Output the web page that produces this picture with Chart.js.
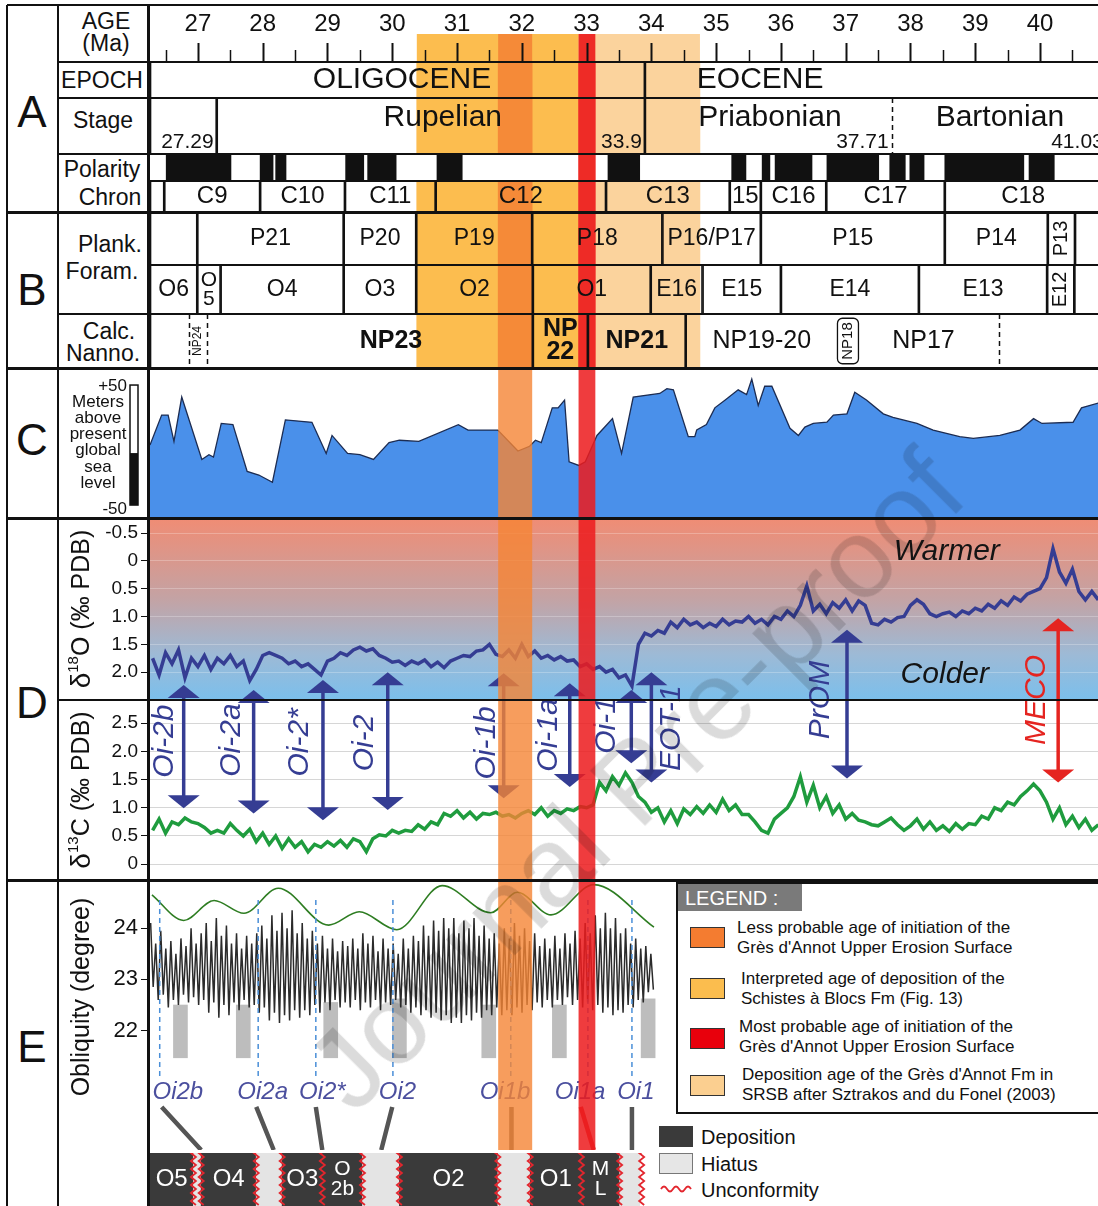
<!DOCTYPE html>
<html lang="en">
<head>
<meta charset="UTF-8">
<title>Oligocene - Eocene stratigraphic chart</title>
<script src="https://cdn.jsdelivr.net/npm/chart.js"></script>
<style>
  body { margin: 0; background: #fff; }
  #fig { position: relative; width: 1098px; height: 1206px; overflow: hidden;
         font-family: "Liberation Sans", Arial, sans-serif; color: #111; }
  #fig canvas { position: absolute; }
  .ln { position: absolute; background: #111; }
  .t { position: absolute; white-space: nowrap; line-height: 1; transform: translate(-50%, -50%); }
  .tr { transform: translate(-100%, -50%); }
  #legend { position: absolute; left: 676px; top: 882px; width: 440px; height: 228px;
            border: 2px solid #111; background: #fff; }
  #legend .hd { position: absolute; left: 0; top: 0; width: 124px; height: 27px; background: #7a7a7a;
                color: #fff; font-size: 20px; line-height: 28px; padding-left: 7px; box-sizing: border-box; }
  #legend .sw { position: absolute; left: 12px; width: 35px; height: 21px; border: 1px solid #333; box-sizing: border-box; }
  #legend .lt { position: absolute; font-size: 17px; line-height: 20px; white-space: nowrap; }
  .bl { position: absolute; font-size: 20px; line-height: 1; transform: translateY(-50%); }
  #wm { position: absolute; left: 635px; top: 780px; transform: translate(-50%, -50%) rotate(-45deg);
        font-size: 113px; color: rgba(0, 0, 0, 0.14); white-space: nowrap; pointer-events: none; }
</style>
</head>
<body>
<div id="fig">
  <div id="legend">
    <div class="hd">LEGEND :</div>
    <div class="sw" style="top:43px;background:#f47c30"></div>
    <div class="lt" style="left:59px;top:34px">Less probable age of initiation of the<br>Grès d'Annot Upper Erosion Surface</div>
    <div class="sw" style="top:94px;background:#fbbd4e"></div>
    <div class="lt" style="left:63px;top:85px">Interpreted age of deposition of the<br>Schistes à Blocs Fm (Fig. 13)</div>
    <div class="sw" style="top:144px;background:#e8000c"></div>
    <div class="lt" style="left:61px;top:133px">Most probable age of initiation of the<br>Grès d'Annot Upper Erosion Surface</div>
    <div class="sw" style="top:191px;background:#fbcf90"></div>
    <div class="lt" style="left:64px;top:181px">Deposition age of the Grès d'Annot Fm in<br>SRSB after Sztrakos and du Fonel (2003)</div>
  </div>
  <div style="position:absolute;left:659px;top:1126px;width:34px;height:21px;background:#3a3a3a"></div>
  <div class="bl" style="left:701px;top:1137px">Deposition</div>
  <div style="position:absolute;left:659px;top:1153px;width:34px;height:21px;background:#e6e6e6;border:1px solid #777;box-sizing:border-box"></div>
  <div class="bl" style="left:701px;top:1164px">Hiatus</div>
  <svg style="position:absolute;left:660px;top:1183px" width="34" height="12">
    <path d="M1 6 Q4 1 7 6 T13 6 T19 6 T25 6 T31 6" fill="none" stroke="#e3262e" stroke-width="1.8"/>
  </svg>
  <div class="bl" style="left:701px;top:1190px">Unconformity</div>
</div>
<script>
const FF = '"Liberation Sans", Arial, sans-serif';
Chart.defaults.font.family = FF;
Chart.defaults.color = '#111';
Chart.defaults.animation = false;
Chart.defaults.responsive = false;
Chart.defaults.events = [];
Chart.defaults.plugins.legend.display = false;
Chart.defaults.plugins.tooltip.enabled = false;

// ---------- age axis (Ma) ----------
const XMIN = 26.26, XMAX = 40.895;

// ---------- A : timescale ----------
const epochs = [[26.26, 33.9, 'OLIGOCENE', {x: 30.15}], [33.9, 41.5, 'EOCENE', {x: 35.68}]];
const stages = [[26.26, 27.29, ''], [27.29, 33.9, 'Rupelian', {x: 30.78}],
  [33.9, 37.71, 'Priabonian', {x: 35.83, R: 0}], [37.71, 41.5, 'Bartonian', {x: 39.38, L: 0}]];
const stageBounds = [27.29, 33.9, 37.71, 41.03];
const stageBoundLabels = ['27.29', '33.9', '37.71', '41.03'];
const polarityNormal = [[26.51, 27.51], [27.96, 28.16], [28.20, 28.36], [29.28, 29.56], [29.62, 30.06],
  [30.69, 31.08], [33.33, 33.82], [35.24, 35.46], [35.71, 35.83], [35.91, 36.48], [36.71, 37.51],
  [37.68, 37.92], [37.99, 38.21], [38.53, 39.75], [39.83, 40.22]];
const chrons = [[26.26, 26.48, ''], [26.48, 27.96, 'C9'], [27.96, 29.27, 'C10'], [29.27, 30.67, 'C11'],
  [30.67, 33.30, 'C12'], [33.30, 35.21, 'C13'], [35.21, 35.69, '15'], [35.69, 36.70, 'C16'],
  [36.70, 38.53, 'C17'], [38.53, 41.5, 'C18', {x: 39.74}]];

// ---------- B : biozones ----------
const plankP = [[26.26, 26.99, ''], [26.99, 29.25, 'P21'], [29.25, 30.37, 'P20'], [30.37, 32.16, 'P19'],
  [32.16, 34.17, 'P18'], [34.17, 35.69, 'P16/P17'], [35.69, 38.53, 'P15'], [38.53, 40.12, 'P14'],
  [40.12, 40.54, 'P13', {v: 1, s: 20}], [40.54, 41.5, '']];
const plankOE = [[26.26, 26.99, 'O6'], [26.99, 27.35, 'O\n5', {s: 21}], [27.35, 29.25, 'O4'], [29.25, 30.37, 'O3'],
  [30.37, 32.17, 'O2'], [32.17, 33.99, 'O1'], [33.99, 34.79, 'E16'], [34.79, 36.0, 'E15'],
  [36.0, 38.13, 'E14'], [38.13, 40.11, 'E13'], [40.11, 40.53, 'E12', {v: 1, s: 20}], [40.53, 41.5, '']];
const nanno = [[26.26, 26.87, '', {R: 0}], [26.87, 27.13, 'NP24', {v: 1, s: 12, L: 0, R: 0}],
  [27.13, 32.17, 'NP23', {x: 29.98, b: 1, L: 0}], [32.17, 33.02, 'NP\n22', {b: 1}], [33.02, 34.53, 'NP21', {b: 1}],
  [34.53, 36.88, 'NP19-20', {R: 0}], [36.88, 37.19, 'NP18', {v: 1, s: 15, L: 0, R: 0, box: 1}],
  [37.19, 39.37, 'NP17', {x: 38.2, L: 0, R: 0}], [39.37, 41.5, '', {L: 0}]];
const nannoDash = [26.86, 27.14, 39.37];

// ---------- highlighted age bands ----------
const bandsTop = [[30.38, 34.75, '#fbd39d'], [30.38, 32.876, '#fcbd4f'], [31.635, 32.16, '#f58a38'], [32.876, 33.135, '#ee2b26']];
const bandsLow = [[31.635, 32.16, 'rgba(245,133,52,0.8)'], [32.876, 33.135, 'rgba(236,28,30,0.86)']];

// ---------- C : sea level (m) ----------
const seaAge = [26.26, 26.44, 26.54, 26.63, 26.75, 27.06, 27.17, 27.24, 27.36, 27.54,
  27.76, 27.94, 28.15, 28.35, 28.76, 28.98, 29.07, 29.31, 29.50, 29.71,
  29.95, 30.11, 30.41, 31.02, 31.17, 31.63, 31.94, 32.12, 32.21, 32.30,
  32.47, 32.56, 32.66, 32.73, 32.88, 32.98, 33.16, 33.40, 33.54, 33.72,
  34.13, 34.24, 34.34, 34.57, 34.67, 34.70, 34.85, 34.98, 35.14, 35.34,
  35.47, 35.55, 35.65, 35.75, 35.86, 36.14, 36.27, 36.37, 36.50, 36.71,
  36.81, 37.02, 37.14, 37.32, 37.58, 37.73, 38.10, 38.35, 38.76, 38.97,
  39.38, 39.69, 39.90, 40.03, 40.51, 40.64, 40.90];
const seaLevel = [0, 25, 25, 3, 40, -12, -8, -10, 18, 17,
  -22, -25, -31, 21, 19, -7, 8, -7, -8, -12,
  2, 4, 3, 17, 12.5, 12.5, -5, -1, 4, 2,
  31, 31, 37.5, -14, -17, -14, 8, 22, -7, 40,
  43, 47, 46, 7, 7, 12.5, 17, 31, 37.5, 46,
  42, 55, 33, 49, 49, 14, 8, 15, 18, 19,
  25, 26, 44, 37.5, 26, 23, 18, 12.5, 7, 5.5,
  8, 12.5, 22, 18, 19, 31, 35];

// ---------- D : isotopes (per mil PDB), sampled every 0.1 Ma from 26.3 Ma ----------
const ISO_AGE0 = 26.3, ISO_STEP = 0.1;
const d18O = [
  1.75, 2.05, 1.65, 1.85, 1.6, 2.1, 1.75, 1.9, 1.7, 1.95,
  1.75, 1.85, 1.7, 1.9, 1.8, 2.15, 1.95, 1.7, 1.65, 1.7,
  1.75, 1.85, 1.8, 1.9, 1.85, 1.95, 2.05, 1.8, 1.75, 1.65,
  1.7, 1.6, 1.55, 1.62, 1.58, 1.7, 1.75, 1.82, 1.8, 1.88,
  1.8, 1.85, 1.78, 1.9, 1.82, 1.92, 1.8, 1.75, 1.7, 1.72,
  1.62, 1.6, 1.5, 1.68, 1.72, 1.6, 1.75, 1.5, 1.72, 1.62,
  1.75, 1.7, 1.78, 1.72, 1.8, 1.78, 1.9, 1.85, 1.95, 1.9,
  2.0, 1.95, 2.1, 2.05, 2.25, 1.5, 1.3, 1.35, 1.25, 1.3,
  1.1, 1.2, 1.05, 1.15, 1.1, 1.2, 1.12, 1.18, 1.05, 1.15,
  1.08, 1.1, 1.0, 1.12, 1.05, 1.15, 1.0, 1.05, 0.9, 1.0,
  0.8, 0.45, 0.9, 0.78, 0.95, 0.75, 0.85, 0.7, 0.9, 0.72,
  0.8, 1.12, 1.15, 1.05, 1.1, 1.02, 1.0, 0.8, 0.7, 0.78,
  0.95, 1.0, 0.95, 0.92, 1.0, 0.9, 0.95, 0.85, 0.9, 0.78,
  0.85, 0.72, 0.8, 0.65, 0.72, 0.6, 0.55, 0.5, 0.3, -0.22,
  0.2, 0.4, 0.15, 0.55, 0.7, 0.55, 0.7];
const d13C = [
  0.6, 0.8, 0.55, 0.75, 0.7, 0.82, 0.75, 0.72, 0.65, 0.55,
  0.6, 0.55, 0.72, 0.6, 0.5, 0.62, 0.4, 0.55, 0.35, 0.5,
  0.28, 0.45, 0.3, 0.4, 0.22, 0.35, 0.3, 0.4, 0.32, 0.42,
  0.3, 0.45, 0.4, 0.22, 0.45, 0.52, 0.5, 0.6, 0.55, 0.6,
  0.58, 0.7, 0.62, 0.75, 0.7, 0.9, 0.85, 0.95, 0.82, 0.92,
  0.8, 0.9, 0.88, 0.92, 0.85, 0.88, 0.82, 0.9, 0.95, 0.88,
  1.0, 0.85, 0.95, 0.9, 0.98, 0.95, 1.02, 1.0, 1.05, 1.45,
  1.3, 1.55, 1.4, 1.62, 1.45, 1.2, 1.1, 0.92, 1.0, 0.75,
  0.95, 0.72, 0.98, 0.88, 1.02, 0.9, 1.05, 0.92, 1.15, 0.95,
  1.05, 0.88, 0.88, 0.75, 0.6, 0.55, 0.8, 0.9, 1.0, 1.2,
  1.55, 1.1, 1.4, 1.0, 1.2, 0.9, 1.05, 0.8, 0.9, 0.78,
  0.75, 0.7, 0.68, 0.75, 0.82, 0.7, 0.6, 0.68, 0.8, 0.62,
  0.75, 0.6, 0.68, 0.58, 0.72, 0.62, 0.72, 0.7, 0.85, 0.8,
  1.0, 0.95, 1.1, 1.05, 1.2, 1.3, 1.42, 1.3, 1.1, 0.8,
  1.0, 0.7, 0.85, 0.65, 0.8, 0.6, 0.7];

// isotope events: arrow tip on d18O scale, arrow tip on d13C scale, label
const eventAge = [26.78, 27.86, 28.93, 29.93, 31.72, 32.74, 33.69, 34.0, 37.02, 40.28];
const eventTopO = [2.23, 2.32, 2.14, 2.0, 2.02, 2.2, 2.32, 2.0, 1.24, 1.03];
const eventBotC = [0.99, 0.9, 0.78, 0.96, 1.17, 1.37, 1.79, 1.45, 1.52, 1.45];
const eventName = ['Oi-2b', 'Oi-2a', 'Oi-2*', 'Oi-2', 'Oi-1b', 'Oi-1a', 'Oi-1', 'EOT-1', 'PrOM', 'MECO'];
const eventNameAge = [26.49, 27.52, 28.57, 29.58, 31.45, 32.42, 33.31, 34.32, 36.62, 39.95];
const eventNameC = [2.18, 2.2, 2.16, 2.15, 2.15, 2.29, 2.46, 2.41, 2.91, 2.91];

// ---------- E : obliquity (degree) ----------
const OBL_AGE0 = 26.27, OBL_STEP = 0.039;
const oblHigh = [
  24.10, 23.70, 23.95, 23.60, 23.75, 23.50, 23.80, 23.65, 24.00, 23.70,
  23.90, 24.10, 23.75, 24.20, 23.85, 24.05, 23.70, 23.90, 23.60, 23.85,
  23.70, 23.90, 24.05, 23.80, 24.25, 23.95, 24.30, 24.00, 24.35, 23.90,
  24.10, 23.80, 23.95, 23.70, 23.85, 23.60, 23.80, 23.55, 23.75, 23.65,
  23.80, 23.60, 23.90, 23.70, 23.85, 23.55, 23.80, 23.60, 23.70, 23.50,
  23.80, 23.60, 23.85, 23.75, 24.05, 23.85, 24.15, 23.95, 24.20, 24.00,
  24.20, 23.90, 24.15, 24.00, 24.20, 23.85, 24.05, 23.80, 23.90, 23.70,
  24.00, 23.80, 24.10, 23.85, 24.00, 23.75, 23.90, 23.65, 23.80, 23.60,
  23.85, 23.60, 23.90, 23.70, 23.95, 23.80, 24.10, 23.90, 24.25, 24.00,
  24.30, 24.00, 24.20, 23.90, 24.00, 23.70, 23.80, 23.60, 23.65, 23.50];
const oblLow = [
  22.85, 22.60, 22.70, 22.45, 22.60, 22.50, 22.70, 22.55, 22.65, 22.50,
  22.60, 22.35, 22.55, 22.25, 22.50, 22.30, 22.55, 22.40, 22.60, 22.45,
  22.50, 22.35, 22.45, 22.20, 22.35, 22.15, 22.30, 22.20, 22.40, 22.25,
  22.40, 22.30, 22.50, 22.35, 22.55, 22.40, 22.60, 22.45, 22.55, 22.45,
  22.60, 22.40, 22.55, 22.45, 22.60, 22.40, 22.55, 22.50, 22.60, 22.45,
  22.50, 22.35, 22.45, 22.30, 22.40, 22.25, 22.35, 22.20, 22.30, 22.15,
  22.25, 22.15, 22.30, 22.20, 22.35, 22.25, 22.40, 22.30, 22.45, 22.30,
  22.40, 22.30, 22.45, 22.35, 22.50, 22.40, 22.55, 22.45, 22.60, 22.45,
  22.60, 22.50, 22.65, 22.50, 22.60, 22.45, 22.55, 22.40, 22.50, 22.35,
  22.45, 22.30, 22.40, 22.35, 22.50, 22.45, 22.60, 22.55, 22.75, 22.80];
const modAge = [26.29, 26.78, 27.25, 27.71, 28.24, 29.02, 29.49, 30.07, 30.77, 31.52, 31.93, 32.45, 33.11, 34.04];
const modVal = [24.65, 24.15, 24.54, 24.29, 24.78, 24.06, 24.32, 23.97, 24.83, 24.30, 24.70, 24.26, 24.85, 24.02];
const oblTicks = [22, 23, 24];
const cycleAge = [26.73, 27.70, 29.05, 30.11, 31.49, 32.58, 33.95];
const cycleTop = [22.5, 22.5, 22.55, 22.62, 22.5, 22.5, 22.62];
const cycleBase = 21.47;
const oiName = ['Oi2b', 'Oi2a', 'Oi2*', 'Oi2', 'Oi1b', 'Oi1a', 'Oi1'];
const oiAge = [26.41, 27.93, 28.82, 30.01, 31.83, 33.02, 33.70];
const oiNameAge = [26.69, 28.0, 28.92, 30.08, 31.74, 32.9, 33.76];
const linkTop = [26.44, 27.90, 28.82, 30.0, 31.84, 32.91, 33.70];
const linkBase = [27.05, 28.17, 28.92, 29.83, 31.84, 33.11, 33.70];

// ---------- depositional sequences ----------
const seqUnits = [[26.26, 26.93, 'O5', 'd'], [26.93, 27.05, '', 'h'], [27.05, 27.90, 'O4', 'd'], [27.90, 28.30, '', 'h'],
  [28.30, 28.92, 'O3', 'd'], [28.92, 29.54, 'O\n2b', 'd'], [29.54, 30.11, '', 'h'], [30.11, 31.63, 'O2', 'd'],
  [31.63, 32.13, '', 'h'], [32.13, 32.92, 'O1', 'd'], [32.92, 33.51, 'M\nL', 'd'], [33.51, 33.82, '', 'h']];
const seqUnconf = [26.93, 27.05, 27.90, 28.30, 28.92, 29.54, 30.11, 31.63, 32.13, 32.92, 33.51, 33.85];

// ---------- helpers ----------
const fig = document.getElementById('fig');
function addCanvas(left, top, w, h) {
  const c = document.createElement('canvas');
  c.width = w; c.height = h;
  c.style.left = left + 'px'; c.style.top = top + 'px';
  c.style.width = w + 'px'; c.style.height = h + 'px';
  fig.appendChild(c);
  return c;
}
function fillBands(c, bands, y0, y1) {
  const ctx = c.ctx, xs = c.scales.x;
  ctx.save();
  bands.forEach(b => {
    const xa = xs.getPixelForValue(b[0]), xb = xs.getPixelForValue(b[1]);
    ctx.fillStyle = b[2];
    ctx.fillRect(xa, y0, xb - xa, y1 - y0);
  });
  ctx.restore();
}
function rrect(ctx, x, y, w, h, r) {
  ctx.beginPath();
  ctx.moveTo(x + r, y);
  ctx.arcTo(x + w, y, x + w, y + h, r);
  ctx.arcTo(x + w, y + h, x, y + h, r);
  ctx.arcTo(x, y + h, x, y, r);
  ctx.arcTo(x, y, x + w, y, r);
  ctx.closePath();
}
function vText(ctx, parts, cx, cy, color) {
  ctx.save();
  ctx.translate(cx, cy);
  ctx.rotate(-Math.PI / 2);
  let w = 0;
  parts.forEach(p => { ctx.font = p[1] + 'px ' + FF; w += ctx.measureText(p[0]).width; });
  let x = -w / 2;
  ctx.fillStyle = color || '#111';
  ctx.textBaseline = 'middle';
  ctx.textAlign = 'left';
  parts.forEach(p => {
    ctx.font = p[1] + 'px ' + FF;
    ctx.fillText(p[0], x, -(p[2] || 0));
    x += ctx.measureText(p[0]).width;
  });
  ctx.restore();
}
// a left axis of fixed width that adds no label padding above or below the plot
function fixAxis(s) { s.width = 90; s.paddingTop = 0; s.paddingBottom = 0; }
const hiddenX = () => ({type: 'linear', min: XMIN, max: XMAX, offset: false, display: false});
const barBase = {barPercentage: 1, categoryPercentage: 1, grouped: false, borderSkipped: false, borderWidth: 0};

// ---------- age axis ----------
new Chart(addCanvas(150, 5, 948, 57), {
  type: 'line',
  data: {datasets: []},
  options: {
    layout: {padding: 0},
    scales: {
      x: {type: 'linear', position: 'top', min: XMIN, max: XMAX,
        afterFit: s => { s.height = 34; },
        ticks: {stepSize: 1, includeBounds: false, padding: 0, font: {size: 24}, color: '#111', maxRotation: 0, autoSkip: false},
        grid: {drawOnChartArea: false, drawTicks: false}, border: {display: false}},
      y: {display: false}
    }
  },
  plugins: [{
    id: 'ageDeco',
    beforeDraw: c => fillBands(c, bandsTop, 29, 57),
    afterDraw: c => {
      const ctx = c.ctx, xs = c.scales.x, b = c.chartArea.bottom;
      ctx.save();
      ctx.strokeStyle = '#111';
      for (let v = 26.5; v < XMAX; v += 0.5) {
        const major = v % 1 === 0;
        const x = Math.round(xs.getPixelForValue(v)) + 0.5;
        ctx.lineWidth = major ? 2 : 1.5;
        ctx.beginPath(); ctx.moveTo(x, b); ctx.lineTo(x, b - (major ? 19 : 12)); ctx.stroke();
      }
      ctx.restore();
    }
  }]
});

// ---------- timescale / biozone rows ----------
function drawUnitLabels(c, units, o) {
  const ctx = c.ctx, xs = c.scales.x, a = c.chartArea;
  const cy = (a.top + a.bottom) / 2 + (o.dy || 0);
  ctx.save();
  ctx.strokeStyle = '#111'; ctx.lineWidth = 1.5; ctx.setLineDash([5, 4]);
  (o.dash || []).forEach(v => {
    const x = Math.round(xs.getPixelForValue(v)) + 0.5;
    ctx.beginPath(); ctx.moveTo(x, a.top); ctx.lineTo(x, a.bottom); ctx.stroke();
  });
  ctx.setLineDash([]);
  ctx.fillStyle = '#111'; ctx.textAlign = 'center'; ctx.textBaseline = 'middle';
  units.forEach(u => {
    if (!u[2]) return;
    const p = u[3] || {};
    const size = p.s || o.size || 22;
    ctx.font = (p.b ? 'bold ' : '') + size + 'px ' + FF;
    const x = xs.getPixelForValue(p.x !== undefined ? p.x : (u[0] + u[1]) / 2);
    const lines = u[2].split('\n');
    const lh = size * 0.92;
    ctx.save();
    ctx.translate(x, p.v ? (a.top + a.bottom) / 2 : cy);
    if (p.v) ctx.rotate(-Math.PI / 2);
    lines.forEach((l, i) => ctx.fillText(l, 0, (i - (lines.length - 1) / 2) * lh));
    if (p.box) {
      const w = ctx.measureText(lines[0]).width;
      ctx.lineWidth = 1.3;
      rrect(ctx, -w / 2 - 4, -size / 2 - 3, w + 8, size + 6, 5);
      ctx.stroke();
    }
    ctx.restore();
  });
  if (o.bounds) {
    ctx.textAlign = 'right';
    ctx.font = '21px ' + FF;
    o.bounds.forEach((v, i) => ctx.fillText(o.boundLabels[i], xs.getPixelForValue(v) - 3, 44));
  }
  ctx.restore();
}

function rowChart(top, h, units, o) {
  const ds = [];
  if (o.white) ds.push(Object.assign({data: [{x: [XMIN, XMAX], y: 'r'}], backgroundColor: '#fff', order: 30}, barBase));
  (o.bands || []).forEach((b, i) => ds.push(Object.assign({data: [{x: [b[0], b[1]], y: 'r'}], backgroundColor: b[2], order: 20 - i}, barBase)));
  if (o.fill) ds.push(Object.assign({data: o.fill.map(n => ({x: n, y: 'r'})), backgroundColor: '#111', order: 25}, barBase));
  ds.push(Object.assign({}, barBase, {
    data: units.map(u => ({x: [u[0], u[1]], y: 'r', p: u[3] || {}})),
    backgroundColor: 'rgba(0,0,0,0)', borderColor: '#111', order: 1,
    borderWidth: ctx => {
      const p = (ctx.raw && ctx.raw.p) || {};
      return {left: p.L === 0 ? 0 : 1, right: p.R === 0 ? 0 : 1, top: 0, bottom: 0};
    }
  }));
  new Chart(addCanvas(150, top, 948, h), {
    type: 'bar',
    data: {labels: ['r'], datasets: ds},
    options: {indexAxis: 'y', layout: {padding: 0}, scales: {x: hiddenX(), y: {type: 'category', display: false}}},
    plugins: [{id: 'rowDeco', afterDraw: c => drawUnitLabels(c, units, o)}]
  });
}

rowChart(62, 36, epochs, {size: 30, bands: bandsTop});
rowChart(98, 56, stages, {size: 30, dy: -8, bands: bandsTop, dash: [37.71], bounds: stageBounds, boundLabels: stageBoundLabels});
rowChart(154, 27, [], {white: true, fill: polarityNormal, bands: [bandsTop[3]]});
rowChart(181, 31, chrons, {size: 24, bands: bandsTop});
rowChart(212, 53, plankP, {size: 23, bands: bandsTop});
rowChart(265, 49, plankOE, {size: 23, bands: bandsTop});
rowChart(314, 54, nanno, {size: 25, bands: bandsTop, dash: nannoDash});

// ---------- C : sea level ----------
new Chart(addCanvas(60, 368, 1038, 150), {
  type: 'line',
  data: {datasets: [{
    data: seaAge.map((x, i) => ({x, y: seaLevel[i]})),
    borderColor: '#1c2c52', borderWidth: 1.3, backgroundColor: '#4a90ea', fill: 'start', pointRadius: 0, tension: 0
  }]},
  options: {layout: {padding: {left: 90}}, scales: {x: hiddenX(), y: {display: false, min: -60.8, max: 64.2}}},
  plugins: [{
    id: 'seaDeco',
    afterDatasetsDraw: c => fillBands(c, bandsLow, c.chartArea.top, c.chartArea.bottom),
    afterDraw: c => {
      const ctx = c.ctx, ys = c.scales.y, x = c.chartArea.left - 20;
      const yt = ys.getPixelForValue(50), ym = ys.getPixelForValue(-6.7), yb = ys.getPixelForValue(-50);
      ctx.save();
      ctx.fillStyle = '#fff'; ctx.fillRect(x, yt, 8, ym - yt);
      ctx.fillStyle = '#111'; ctx.fillRect(x, ym, 8, yb - ym);
      ctx.strokeStyle = '#111'; ctx.lineWidth = 1.5; ctx.strokeRect(x, yt, 8, yb - yt);
      ctx.restore();
    }
  }]
});

// ---------- D : oxygen and carbon isotopes ----------
function drawArrow(ctx, x, y0, y1, color) {
  ctx.strokeStyle = color; ctx.fillStyle = color; ctx.lineWidth = 3.5;
  ctx.beginPath(); ctx.moveTo(x, y0 + 8); ctx.lineTo(x, y1 - 8); ctx.stroke();
  ctx.beginPath(); ctx.moveTo(x, y0); ctx.lineTo(x - 16, y0 + 13); ctx.lineTo(x + 16, y0 + 13); ctx.closePath(); ctx.fill();
  ctx.beginPath(); ctx.moveTo(x, y1); ctx.lineTo(x - 16, y1 - 13); ctx.lineTo(x + 16, y1 - 13); ctx.closePath(); ctx.fill();
}
const isoTicks = {stepSize: 0.5, includeBounds: false, autoSkip: false, padding: 3, font: {size: 19},
  callback: v => v === 0 ? '0' : v.toFixed(1)};
new Chart(addCanvas(60, 518, 1038, 362), {
  type: 'line',
  data: {datasets: [
    {data: d18O.map((v, i) => ({x: ISO_AGE0 + i * ISO_STEP, y: v})), yAxisID: 'y18',
      borderColor: '#353d93', borderWidth: 3.5, pointRadius: 0},
    {data: d13C.map((v, i) => ({x: ISO_AGE0 + i * ISO_STEP, y: v})), yAxisID: 'y13',
      borderColor: '#1f9c3e', borderWidth: 3.5, pointRadius: 0}
  ]},
  options: {
    layout: {padding: 0},
    scales: {
      x: hiddenX(),
      y13: {type: 'linear', position: 'left', stack: 'iso', stackWeight: 180, min: -0.28, max: 2.91,
        afterFit: fixAxis, ticks: isoTicks,
        grid: {color: '#d6d6d6', tickColor: '#111', tickLength: 9}, border: {display: false}},
      y18: {type: 'linear', position: 'left', stack: 'iso', stackWeight: 182, reverse: true, min: -0.77, max: 2.5,
        afterFit: fixAxis,
        afterBuildTicks: s => { s.ticks = s.ticks.filter(t => t.value <= 2.0001); },
        ticks: isoTicks,
        grid: {color: 'rgba(255,255,255,0.25)', tickColor: '#111', tickLength: 9}, border: {display: false}}
    }
  },
  plugins: [{
    id: 'isoDeco',
    beforeDraw: c => {
      const ctx = c.ctx, a = c.chartArea, s = c.scales.y18;
      const g = ctx.createLinearGradient(0, s.top, 0, s.bottom);
      g.addColorStop(0, '#f08c74'); g.addColorStop(0.45, '#c3a3a5');
      g.addColorStop(0.75, '#9dbad6'); g.addColorStop(1, '#7bbfec');
      ctx.save(); ctx.fillStyle = g; ctx.fillRect(a.left, s.top, a.right - a.left, s.bottom - s.top); ctx.restore();
    },
    afterDatasetsDraw: c => {
      const ctx = c.ctx, xs = c.scales.x, yo = c.scales.y18, yc = c.scales.y13, a = c.chartArea;
      ctx.save();
      eventAge.forEach((age, i) => {
        const color = eventName[i] === 'MECO' ? '#e52420' : '#353d93';
        drawArrow(ctx, xs.getPixelForValue(age), yo.getPixelForValue(eventTopO[i]), yc.getPixelForValue(eventBotC[i]), color);
        ctx.save();
        ctx.translate(xs.getPixelForValue(eventNameAge[i]), yc.getPixelForValue(eventNameC[i]));
        ctx.rotate(-Math.PI / 2);
        ctx.font = 'italic 30px ' + FF; ctx.fillStyle = color;
        ctx.textAlign = 'center'; ctx.textBaseline = 'middle';
        ctx.fillText(eventName[i], 0, 0);
        ctx.restore();
      });
      ctx.restore();
      fillBands(c, bandsLow, a.top, a.bottom);
      ctx.save();
      ctx.font = 'italic 30px ' + FF; ctx.fillStyle = '#141414';
      ctx.textAlign = 'center'; ctx.textBaseline = 'middle';
      ctx.fillText('Warmer', xs.getPixelForValue(38.56), yo.getPixelForValue(-0.16));
      ctx.fillText('Colder', xs.getPixelForValue(38.53), yo.getPixelForValue(2.05));
      ctx.restore();
    },
    afterDraw: c => {
      const yo = c.scales.y18, yc = c.scales.y13;
      vText(c.ctx, [['δ', 28], ['18', 15, 8], ['O (‰ PDB)', 25]], 22, (yo.top + yo.bottom) / 2);
      vText(c.ctx, [['δ', 28], ['13', 15, 8], ['C (‰ PDB)', 25]], 22, (yc.top + yc.bottom) / 2);
    }
  }]
});

// ---------- E : obliquity ----------
const oblPts = [];
oblHigh.forEach((h, k) => {
  oblPts.push({x: OBL_AGE0 + 2 * k * OBL_STEP, y: h});
  oblPts.push({x: OBL_AGE0 + (2 * k + 1) * OBL_STEP, y: oblLow[k]});
});
const dashPts = [], linkPts = [], linkRed = [];
oiAge.forEach(v => dashPts.push({x: v, y: 24.55}, {x: v, y: 21.1}, {x: v, y: null}));
linkTop.forEach((v, i) => {
  const seg = [{x: v, y: 20.51}, {x: linkBase[i], y: 19.67}, {x: linkBase[i], y: null}];
  if (oiName[i] === 'Oi1a') linkRed.push(...seg); else linkPts.push(...seg);
});
new Chart(addCanvas(60, 880, 1038, 270), {
  type: 'line',
  data: {datasets: [
    {type: 'bar', data: cycleAge.map((v, i) => ({x: v, y: [cycleBase, cycleTop[i]]})),
      backgroundColor: '#bdbdbd', barThickness: 14, order: 6},
    {data: oblPts, borderColor: '#2b2b2b', borderWidth: 1.5, pointRadius: 0, order: 5},
    {data: modAge.map((x, i) => ({x, y: modVal[i]})), borderColor: '#2e7d22', borderWidth: 1.6,
      cubicInterpolationMode: 'monotone', pointRadius: 0, order: 4},
    {data: dashPts, borderColor: '#4a8fd8', borderWidth: 1.5, borderDash: [5, 4], pointRadius: 0, order: 3},
    {data: linkPts, borderColor: '#555', borderWidth: 4.5, pointRadius: 0, order: 2},
    {data: linkRed, borderColor: '#e03030', borderWidth: 4.5, pointRadius: 0, order: 1}
  ]},
  options: {
    layout: {padding: 0},
    scales: {
      x: hiddenX(),
      y: {min: 19.67, max: 24.94,
        afterFit: fixAxis,
        afterBuildTicks: s => { s.ticks = oblTicks.map(v => ({value: v})); },
        ticks: {font: {size: 22}, padding: 3, autoSkip: false},
        grid: {drawOnChartArea: false, tickColor: '#111', tickLength: 9}, border: {display: false}}
    }
  },
  plugins: [{
    id: 'oblDeco',
    afterDatasetsDraw: c => {
      const ctx = c.ctx, xs = c.scales.x, ys = c.scales.y, a = c.chartArea;
      ctx.save();
      ctx.font = 'italic 24px ' + FF; ctx.fillStyle = '#4b4f9e';
      ctx.textAlign = 'center'; ctx.textBaseline = 'middle';
      oiName.forEach((n, i) => ctx.fillText(n, xs.getPixelForValue(oiNameAge[i]), ys.getPixelForValue(20.8)));
      ctx.restore();
      fillBands(c, bandsLow, a.top, a.bottom);
    },
    afterDraw: c => vText(c.ctx, [['Obliquity (degree)', 25]], 22, 117)
  }]
});

// ---------- depositional sequences ----------
new Chart(addCanvas(150, 1153, 948, 53), {
  type: 'bar',
  data: {labels: ['r'], datasets: [Object.assign({}, barBase, {
    data: seqUnits.map(u => ({x: [u[0], u[1]], y: 'r'})),
    backgroundColor: seqUnits.map(u => u[3] === 'd' ? '#3a3a3a' : '#e4e4e4')
  })]},
  options: {indexAxis: 'y', layout: {padding: 0}, scales: {x: hiddenX(), y: {type: 'category', display: false}}},
  plugins: [{
    id: 'seqDeco',
    afterDraw: c => {
      const ctx = c.ctx, xs = c.scales.x, a = c.chartArea;
      ctx.save();
      ctx.strokeStyle = '#e3262e'; ctx.lineWidth = 1.8;
      seqUnconf.forEach(v => {
        const x = xs.getPixelForValue(v);
        ctx.beginPath(); ctx.moveTo(x, a.top);
        for (let y = a.top, k = 0; y <= a.bottom; y += 4, k++) ctx.lineTo(x + (k % 2 ? 2.5 : -2.5), y);
        ctx.stroke();
      });
      ctx.fillStyle = '#fff'; ctx.textAlign = 'center'; ctx.textBaseline = 'middle';
      const cy = (a.top + a.bottom) / 2;
      seqUnits.forEach(u => {
        if (!u[2]) return;
        const lines = u[2].split('\n');
        const size = lines.length > 1 ? 21 : 24;
        ctx.font = size + 'px ' + FF;
        lines.forEach((l, i) => ctx.fillText(l, xs.getPixelForValue((u[0] + u[1]) / 2), cy + (i - (lines.length - 1) / 2) * size * 0.95));
      });
      ctx.restore();
    }
  }]
});

// ---------- frame, side labels, watermark ----------
const frameH = [[7, 1098, 5, 2], [58, 1098, 62, 2], [58, 1098, 98, 2], [58, 1098, 154, 2], [150, 1098, 181, 2],
  [7, 1098, 212, 3], [150, 1098, 265, 2], [58, 1098, 314, 2], [7, 1098, 368, 3], [7, 1098, 518, 3],
  [58, 1098, 700, 2], [7, 1098, 880, 3]];
const frameV = [[7, 5, 1206, 2], [58, 5, 1206, 2], [148, 5, 1206, 3]];
function addDiv(cls, css, text) {
  const d = document.createElement('div');
  d.className = cls; d.style.cssText = css;
  if (text !== undefined) d.textContent = text;
  fig.appendChild(d);
  return d;
}
frameH.forEach(l => addDiv('ln', `left:${l[0]}px;width:${l[1] - l[0]}px;top:${l[2] - Math.floor(l[3] / 2)}px;height:${l[3]}px`));
frameV.forEach(l => addDiv('ln', `left:${l[0] - Math.floor(l[3] / 2)}px;width:${l[3]}px;top:${l[1]}px;height:${l[2] - l[1]}px`));

const sideText = [['A', 32, 112, 44], ['B', 32, 290, 44], ['C', 32, 440, 44], ['D', 32, 703, 44], ['E', 32, 1047, 44],
  ['AGE', 106, 21, 23], ['(Ma)', 106, 43, 23], ['EPOCH', 102, 80, 23], ['Stage', 103, 120, 23],
  ['Polarity', 102, 169, 23], ['Chron', 110, 197, 23], ['Plank.', 110, 244, 23], ['Foram.', 102, 271, 23],
  ['Calc.', 109, 331, 23], ['Nanno.', 103, 353, 23],
  ['Meters', 98, 401, 17], ['above', 98, 417, 17], ['present', 98, 433, 17], ['global', 98, 449, 17],
  ['sea', 98, 466, 17], ['level', 98, 482, 17]];
sideText.forEach(s => addDiv('t', `left:${s[1]}px;top:${s[2]}px;font-size:${s[3]}px`, s[0]));
addDiv('t tr', 'left:127px;top:385px;font-size:17px', '+50');
addDiv('t tr', 'left:127px;top:508px;font-size:17px', '-50');

// legend boxes sit above the plots
fig.appendChild(document.getElementById('legend'));
addDiv('', '', 'Journal Pre-proof').id = 'wm';
</script>
</body>
</html>
